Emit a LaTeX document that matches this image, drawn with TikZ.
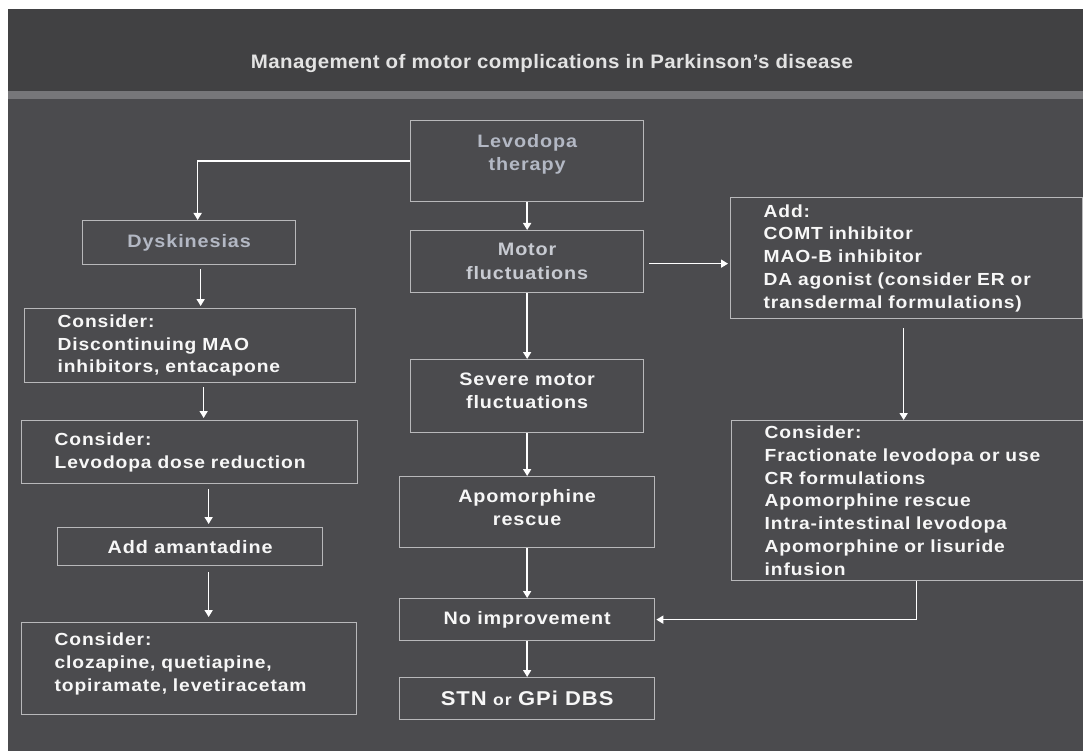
\documentclass[tikz,border=0pt]{standalone}
\usepackage{fontspec}
\setmainfont{Liberation Sans}
\newfontfamily\bodyfont{Liberation Sans}[FakeStretch=1.1, LetterSpace=5]
\newfontfamily\headfont{Liberation Sans}[FakeStretch=1.05, LetterSpace=2]
\usetikzlibrary{arrows.meta}

\definecolor{bgmain}{HTML}{4B4B4E}
\definecolor{bgtitle}{HTML}{414143}
\definecolor{bandgray}{HTML}{77777A}
\definecolor{boxline}{HTML}{B8B8BA}
\definecolor{dimtext}{HTML}{B3B8C4}
\definecolor{midtext}{HTML}{C8CBD2}
\definecolor{brighttext}{HTML}{F7F7F7}

\tikzset{
  panel/.style={draw=boxline, line width=1.3pt, inner sep=0pt, anchor=north west,
    font=\bodyfont\bfseries\fontsize{18}{23}\selectfont, text=brighttext, align=center},
  listbox/.style={panel, inner xsep=33pt, align=left,
    font=\bodyfont\bfseries\fontsize{17.5}{22.7}\selectfont},
  arr/.style={draw=white, line width=1.6pt, -{Triangle[length=7pt,width=8pt]}},
}

\begin{document}
\begin{tikzpicture}[x=1pt, y=-1pt]
  \useasboundingbox (0,0) rectangle (1083,751);
  % backdrop, heading band and divider
  \fill[white] (0,0) rectangle (1083,751);
  \fill[bgmain] (8,9) rectangle (1083,751);
  \fill[bgtitle] (8,9) rectangle (1083,91);
  \fill[bandgray] (8,91) rectangle (1083,99);
  \node[anchor=base, text=brighttext!92!black, font=\headfont\bfseries\fontsize{19.5}{22}\selectfont]
    (heading) at (552,69) {Management of motor complications in Parkinson’s disease};

  % central column
  \node[panel, minimum width=233pt, minimum height=81pt, text=dimtext, text depth=17pt]
    (lev) at (410,120) {Levodopa\\therapy};
  \node[panel, minimum width=233pt, minimum height=62pt, text=midtext, font=\bodyfont\bfseries\fontsize{18}{24}\selectfont]
    (motor) at (410,230) {Motor\\fluctuations};
  \node[panel, minimum width=233pt, minimum height=73pt, text depth=10pt]
    (severe) at (410,359) {Severe motor\\fluctuations};
  \node[panel, minimum width=255pt, minimum height=71pt, text depth=9pt]
    (apo) at (399,476) {Apomorphine\\rescue};
  \node[panel, minimum width=255pt, minimum height=42pt]
    (noimp) at (399,598) {No improvement};
  \node[panel, minimum width=255pt, minimum height=42pt]
    (dbs) at (399,677) {{\fontsize{20}{23}\selectfont STN} {\fontsize{16}{23}\selectfont or} {\fontsize{20}{23}\selectfont GPi DBS}};

  % dyskinesia column
  \node[panel, minimum width=213pt, minimum height=44pt, text=dimtext]
    (dysk) at (82,220) {Dyskinesias};
  \node[listbox, minimum width=331pt, minimum height=74pt, text width=265pt]
    (stopmao) at (24,308) {Consider:\\Discontinuing MAO\\inhibitors, entacapone};
  \node[listbox, minimum width=336pt, minimum height=63pt, text width=270pt]
    (dose) at (21,420) {Consider:\\Levodopa dose reduction};
  \node[panel, minimum width=265pt, minimum height=38pt]
    (amant) at (57,527) {Add amantadine};
  \node[listbox, minimum width=335pt, minimum height=92pt, text width=269pt, text depth=58pt]
    (antidysk) at (21,622) {Consider:\\clozapine, quetiapine,\\topiramate, levetiracetam};

  % fluctuation add-ons
  \node[listbox, minimum width=352pt, minimum height=121pt, text width=286pt]
    (addon) at (730,197) {Add:\\COMT inhibitor\\MAO-B inhibitor\\DA agonist (consider ER or\\transdermal formulations)};
  \node[listbox, minimum width=350pt, minimum height=160pt, text width=290pt]
    (options) at (731,420) {Consider:\\Fractionate levodopa or use\\CR formulations\\Apomorphine rescue\\Intra-intestinal levodopa\\Apomorphine or lisuride\\infusion};

  % connectors
  \draw[arr] (lev.west) -| ([shift={(8.5,0)}]dysk.north);
  \draw[arr] ([shift={(11.5,4)}]dysk.south) -- ([shift={(11.5,-2)}]stopmao.north -| dysk.south);
  \draw[arr] ([shift={(13.5,4)}]stopmao.south) -- ([shift={(13.5,-2)}]dose.north -| stopmao.south);
  \draw[arr] ([shift={(19,5)}]dose.south) -- ([shift={(19,-3)}]amant.north -| dose.south);
  \draw[arr] ([shift={(18.5,6)}]amant.south) -- ([shift={(18.5,-5)}]antidysk.north -| amant.south);

  \draw[arr] (lev.south) -- (motor.north);
  \draw[arr] (motor.south) -- (severe.north);
  \draw[arr] (severe.south) -- (apo.north);
  \draw[arr] (apo.south) -- (noimp.north);
  \draw[arr] (noimp.south) -- (dbs.north);

  \draw[arr] ([shift={(5,2)}]motor.east) -- ([shift={(-2,5.5)}]addon.west);
  \draw[arr] ([shift={(-3,9)}]addon.south) -- ([shift={(-3,0)}]addon.south |- options.north);
  \draw[arr] ([shift={(7,0)}]options.south) |- ([shift={(1,0)}]noimp.east);
\end{tikzpicture}
\end{document}
